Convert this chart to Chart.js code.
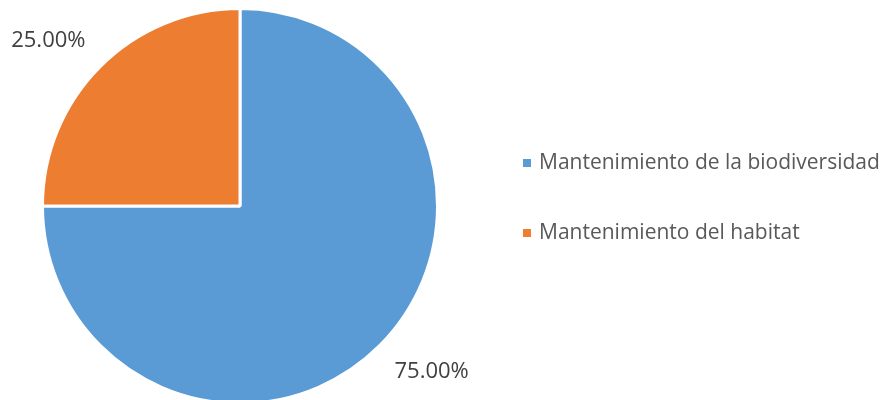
<!DOCTYPE html>
<html>
<head>
<meta charset="utf-8">
<script src="https://cdn.jsdelivr.net/npm/chart.js@4"></script>
<style>
    html, body { margin: 0; padding: 0; background: #fff; overflow: hidden; }
    #wrap { position: relative; width: 882px; height: 405px; }
</style>
</head>
<body>
<div id="wrap"><canvas id="chart"></canvas></div>
<script>
const categories = ['Mantenimiento de la biodiversidad', 'Mantenimiento del habitat'];
const values = [75, 25];
const colors = ['#5B9BD5', '#ED7D31'];

const FONT = '"Open Sans", "Noto Sans", sans-serif';

// percent labels just outside the slices, corner anchored like Excel's best fit
const outsideLabels = {
    id: 'outsideLabels',
    afterDatasetsDraw(chart) {
        const ctx = chart.ctx;
        const total = values.reduce((a, b) => a + b, 0);
        ctx.save();
        ctx.font = '22px ' + FONT;
        ctx.fillStyle = '#404040';
        chart.getDatasetMeta(0).data.forEach((arc, i) => {
            const p = arc.getProps(['x', 'y', 'startAngle', 'endAngle', 'outerRadius'], true);
            const mid = (p.startAngle + p.endAngle) / 2;
            const r = p.outerRadius + 21;
            const x = p.x + Math.cos(mid) * r;
            const y = p.y + Math.sin(mid) * r;
            ctx.textAlign = Math.cos(mid) < 0 ? 'right' : 'left';
            ctx.textBaseline = Math.sin(mid) < 0 ? 'bottom' : 'top';
            ctx.fillText((values[i] / total * 100).toFixed(2) + '%', x, y);
        });
        ctx.restore();
    }
};

// legend on the right
const sideLegend = {
    id: 'sideLegend',
    afterDraw(chart) {
        const ctx = chart.ctx;
        ctx.save();
        ctx.font = '21px ' + FONT;
        ctx.textBaseline = 'middle';
        ctx.textAlign = 'left';
        categories.forEach((c, i) => {
            const y = 163 + i * 70;
            ctx.fillStyle = colors[i];
            ctx.fillRect(523, y - 4, 8, 8);
            ctx.fillStyle = '#595959';
            ctx.fillText(c, 539, y);
        });
        ctx.restore();
    }
};

new Chart(document.getElementById('chart'), {
    type: 'pie',
    data: {
        labels: categories,
        datasets: [{
            data: values,
            backgroundColor: colors,
            borderColor: '#ffffff',
            borderWidth: 3
        }]
    },
    options: {
        responsive: true,
        maintainAspectRatio: false,
        animation: false,
        layout: { padding: { left: 41, right: 443, top: 7, bottom: 0 } },
        plugins: {
            legend: { display: false },
            tooltip: { enabled: false }
        }
    },
    plugins: [outsideLabels, sideLegend]
});
</script>
</body>
</html>
